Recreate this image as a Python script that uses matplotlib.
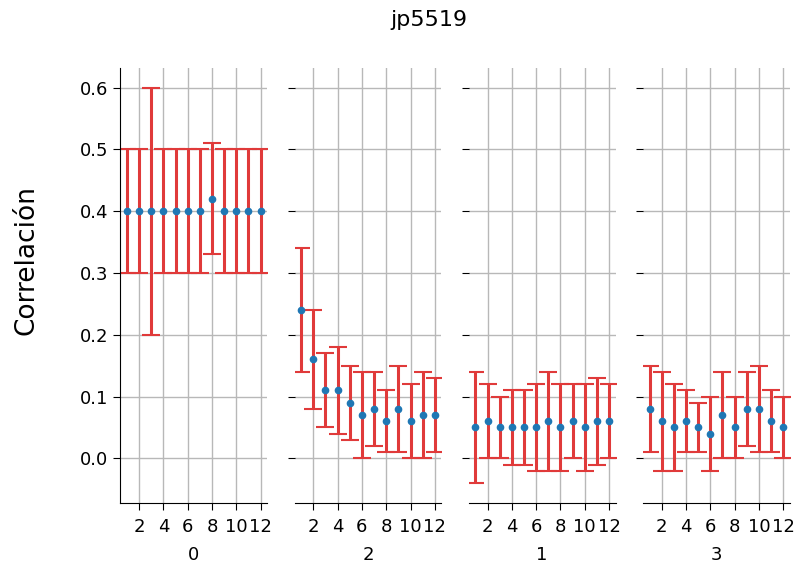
import numpy as np
import matplotlib
matplotlib.use("Agg")
import matplotlib.pyplot as plt

# panel order as drawn, each panel labelled below its axis
panels = ["0", "2", "1", "3"]
lags = list(range(1, 13))

mean_0 = [0.40, 0.40, 0.40, 0.40, 0.40, 0.40, 0.40, 0.42, 0.40, 0.40, 0.40, 0.40]
err_0 = [0.10, 0.10, 0.20, 0.10, 0.10, 0.10, 0.10, 0.09, 0.10, 0.10, 0.10, 0.10]

mean_2 = [0.24, 0.16, 0.11, 0.11, 0.09, 0.07, 0.08, 0.06, 0.08, 0.06, 0.07, 0.07]
err_2 = [0.10, 0.08, 0.06, 0.07, 0.06, 0.07, 0.06, 0.05, 0.07, 0.06, 0.07, 0.06]

mean_1 = [0.05, 0.06, 0.05, 0.05, 0.05, 0.05, 0.06, 0.05, 0.06, 0.05, 0.06, 0.06]
err_1 = [0.09, 0.06, 0.05, 0.06, 0.06, 0.07, 0.08, 0.07, 0.06, 0.07, 0.07, 0.06]

mean_3 = [0.08, 0.06, 0.05, 0.06, 0.05, 0.04, 0.07, 0.05, 0.08, 0.08, 0.06, 0.05]
err_3 = [0.07, 0.08, 0.07, 0.05, 0.04, 0.06, 0.07, 0.05, 0.06, 0.07, 0.05, 0.05]

means = [mean_0, mean_2, mean_1, mean_3]
errs = [err_0, err_2, err_1, err_3]

fig, axes = plt.subplots(1, 4, sharey=True, figsize=(7.97, 5.65), dpi=100)
fig.subplots_adjust(left=0.151, right=0.991, bottom=0.11, top=0.88, wspace=0.185)

for i, ax in enumerate(axes):
    ax.errorbar(lags, means[i], yerr=errs[i], fmt="o", color="#1f77b4",
                markersize=4.5, ecolor="#e03a3a", elinewidth=2.2,
                capsize=6.5, capthick=1.5)
    ax.grid(True, color="#b8b8b8", linewidth=1)
    ax.set_xticks([2, 4, 6, 8, 10, 12])
    ax.set_xlabel(panels[i], fontsize=13, labelpad=7)
    ax.tick_params(labelsize=13, length=5)
    ax.tick_params(axis="x", pad=6)
    ax.spines["top"].set_visible(False)
    ax.spines["right"].set_visible(False)
    if i > 0:
        ax.spines["left"].set_visible(False)

axes[0].set_yticks([0.0, 0.1, 0.2, 0.3, 0.4, 0.5, 0.6])
fig.text(0.033, 0.54, "Correlación", rotation=90, fontsize=19,
         ha="center", va="center")
fig.suptitle("jp5519", fontsize=16, x=0.538, y=0.982)

plt.savefig("out.png", dpi=100)
